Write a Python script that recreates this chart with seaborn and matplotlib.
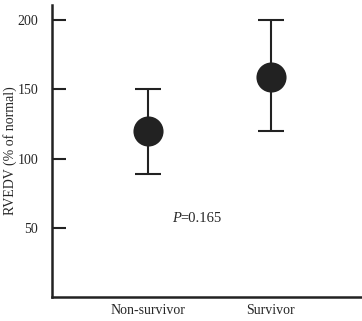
import matplotlib
matplotlib.use('Agg')
import matplotlib.pyplot as plt
import pandas as pd
import seaborn as sns

# Data
groups = ['Non-survivor', 'Survivor']
means = [120, 159]
lower = [89, 120]
upper = [150, 200]
p_text = '=0.165'

df = pd.DataFrame({'group': groups, 'mean': means, 'low': lower, 'high': upper})

sns.set_style('ticks')
plt.rcParams['font.family'] = ['Liberation Serif', 'DejaVu Serif']

fig = plt.figure(figsize=(3.62, 3.21), dpi=100)
ax = fig.add_axes([0.1436, 0.0748, 0.856, 0.9097])

ink = '#222222'
xs = list(range(len(groups)))
ax.errorbar(xs, df['mean'],
            yerr=[df['mean'] - df['low'], df['high'] - df['mean']],
            fmt='none', ecolor=ink, elinewidth=1.5, capsize=9.7, capthick=1.5, zorder=2)
sns.scatterplot(x=xs, y=df['mean'], ax=ax, s=470, color=ink, edgecolor=ink,
                linewidth=0, zorder=3, legend=False)

ax.set_xlim(-0.78, 1.74)
ax.set_ylim(0, 211)
ax.set_xticks(xs)
ax.set_xticklabels(groups, fontsize=10)
ax.set_yticks([50, 100, 150, 200])
ax.tick_params(axis='y', direction='in', length=10, width=1.5, labelsize=10, pad=10, color=ink)
ax.tick_params(axis='x', length=0, pad=5)
ax.set_ylabel('RVEDV (% of normal)', fontsize=10)
ax.yaxis.set_label_coords(-0.112, 0.5)
ax.set_xlabel('')

for s in ['top', 'right']:
    ax.spines[s].set_visible(False)
for s in ['left', 'bottom']:
    ax.spines[s].set_linewidth(1.8)
    ax.spines[s].set_color(ink)

ax.text(0.196, 57, 'P', fontsize=10.5, style='italic', ha='left', va='center')
ax.text(0.265, 57, p_text, fontsize=10.5, ha='left', va='center')

fig.savefig('out.png', dpi=100)
